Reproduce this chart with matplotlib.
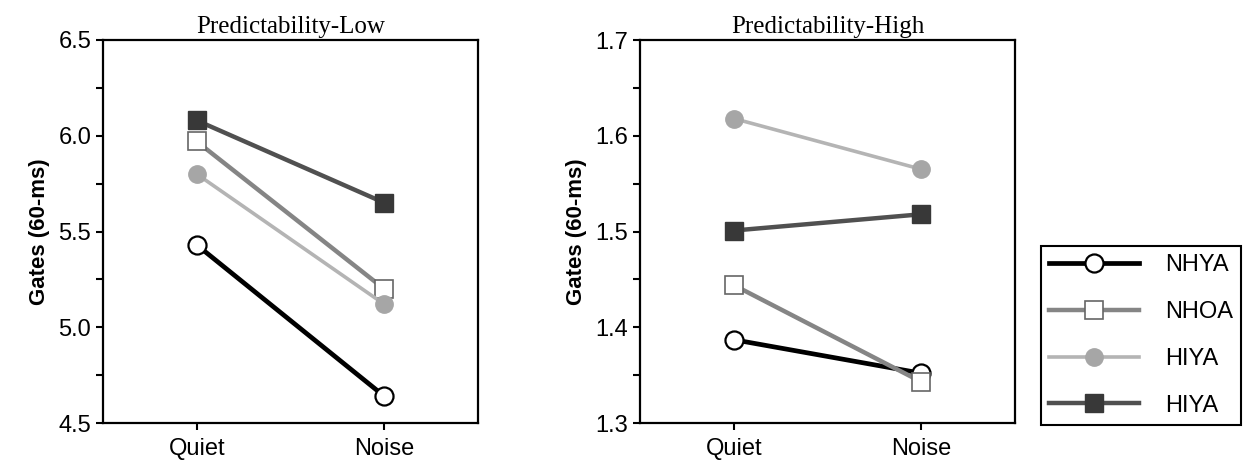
import matplotlib
matplotlib.use("Agg")
import matplotlib.pyplot as plt
from matplotlib.ticker import MultipleLocator, FormatStrFormatter

conditions = ["Quiet", "Noise"]
groups = ["NHYA", "NHOA", "HIYA", "HIYA"]

# Predictability-Low
low_nhya = [5.43, 4.64]
low_nhoa = [5.97, 5.20]
low_hiya_circle = [5.80, 5.12]
low_hiya_square = [6.08, 5.65]

# Predictability-High
high_nhya = [1.387, 1.352]
high_nhoa = [1.444, 1.343]
high_hiya_circle = [1.618, 1.565]
high_hiya_square = [1.501, 1.518]

styles = [
    dict(color="black", lw=3.4, marker="o", ms=13, mfc="white", mec="black", mew=1.6),
    dict(color="#858585", lw=3.2, marker="s", ms=12.5, mfc="white", mec="#666666", mew=1.2),
    dict(color="#b4b4b4", lw=2.6, marker="o", ms=12.5, mfc="#a6a6a6", mec="#a6a6a6", mew=1.0),
    dict(color="#505050", lw=3.2, marker="s", ms=12.5, mfc="#383838", mec="#383838", mew=1.0),
]

plt.rcParams["font.family"] = ["Liberation Sans", "DejaVu Sans"]

fig = plt.figure(figsize=(12.49, 4.69), dpi=100)
ax1 = fig.add_axes([103 / 1249, 46 / 469, 375 / 1249, 383 / 469])
ax2 = fig.add_axes([640 / 1249, 46 / 469, 375 / 1249, 383 / 469])

x = list(range(len(conditions)))


def draw(ax, series, title, ylim, major, minor):
    handles = []
    for vals, st, name in zip(series, styles, groups):
        h, = ax.plot(x, vals, label=name, zorder=3, **st)
        handles.append(h)
    ax.set_xlim(-0.5, 1.5)
    ax.set_ylim(*ylim)
    ax.set_xticks(x)
    ax.set_xticklabels(conditions)
    ax.yaxis.set_major_locator(MultipleLocator(major))
    ax.yaxis.set_minor_locator(MultipleLocator(minor))
    ax.yaxis.set_major_formatter(FormatStrFormatter("%.1f"))
    ax.tick_params(axis="both", which="both", direction="out", width=1.5, length=5, labelsize=17)
    ax.tick_params(axis="x", pad=6)
    for sp in ax.spines.values():
        sp.set_linewidth(1.6)
    ax.set_ylabel("Gates (60-ms)", fontsize=16, fontweight="bold", labelpad=6)
    ax.set_title(title, fontsize=18, family=["Liberation Serif", "DejaVu Serif"], pad=5)
    return handles


draw(ax1, [low_nhya, low_nhoa, low_hiya_circle, low_hiya_square],
     "Predictability-Low", (4.5, 6.5), 0.5, 0.25)
handles = draw(ax2, [high_nhya, high_nhoa, high_hiya_circle, high_hiya_square],
               "Predictability-High", (1.3, 1.7), 0.1, 0.05)

leg = fig.legend(handles=handles, labels=groups, loc="upper left",
                 bbox_to_anchor=(1041 / 1249, 1 - 246 / 469), fontsize=17,
                 handlelength=3.8, handletextpad=1.1, labelspacing=1.05,
                 borderpad=0.35, borderaxespad=0, fancybox=False, framealpha=1,
                 edgecolor="black")
leg.get_frame().set_linewidth(1.5)

fig.savefig("out.png", dpi=100)
